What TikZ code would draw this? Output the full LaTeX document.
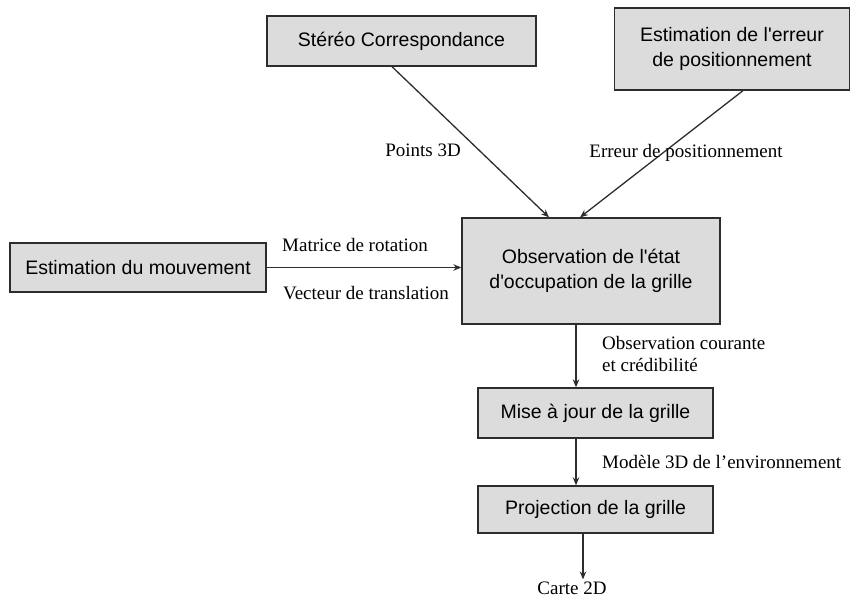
\documentclass[tikz,border=0pt]{standalone}
\usepackage{fontspec}
\setmainfont{Liberation Serif}
\setsansfont{Liberation Sans}
\usetikzlibrary{arrows.meta}
\definecolor{fondboite}{RGB}{220,220,220}
\definecolor{bordboite}{RGB}{45,45,45}
\tikzset{
  boite/.style={draw=bordboite, fill=fondboite, line width=1.3pt, inner sep=0pt,
    align=center, font=\sffamily\fontsize{19.5}{25}\selectfont},
  fleche/.style={-{Stealth[length=8pt,width=6.5pt]}, line width=1.3pt, draw=bordboite},
  etiq/.style={font=\fontsize{19}{22}\selectfont, inner sep=0pt}
}
\begin{document}
\begin{tikzpicture}[x=1pt, y=-1pt]
  \useasboundingbox (0,0) rectangle (851,601);

  % Les boîtes
  \node[boite, minimum width=269pt, minimum height=50pt] (stereo) at (401.5,41) {Stéréo Correspondance};
  \node[boite, minimum width=235pt, minimum height=82pt] (erreur) at (732,49) {Estimation de l\textquotesingle erreur\\de positionnement};
  \node[boite, minimum width=256pt, minimum height=49pt] (mouv) at (138,267.5) {Estimation du mouvement};
  \node[boite, minimum width=258pt, minimum height=106pt] (obs) at (591,271) {Observation de l\textquotesingle état\\d\textquotesingle occupation de la grille};
  \node[boite, minimum width=235pt, minimum height=50pt] (maj) at (595.5,413) {Mise à jour de la grille};
  \node[boite, minimum width=235pt, minimum height=47pt] (proj) at (595.5,509.5) {Projection de la grille};
  \node[etiq] (carte) at (572,588) {Carte 2D};

  % Les flèches
  \draw[fleche] ([xshift=-9.5pt]stereo.south) -- ([xshift=-42pt]obs.north);
  \draw[fleche] ([xshift=11pt]erreur.south) -- ([xshift=-11pt]obs.north);
  \draw[fleche] (mouv.east) -- (mouv.east -| obs.west);
  \draw[fleche] ([xshift=-15pt]obs.south) -- ([xshift=-15pt]obs.south |- maj.north);
  \draw[fleche] ([xshift=-19.5pt]maj.south) -- ([xshift=-19.5pt]maj.south |- proj.north);
  \draw[fleche] ([xshift=-12.5pt]proj.south) -- ([xshift=-12.5pt, yshift=2pt]proj.south |- carte.north);

  % Les étiquettes
  \node[etiq] (lpoints) at (423,150) {Points 3D};
  \node[etiq] (lerreur) at (686,153) {Erreur de positionnement};
  \node[etiq] (lmatrice) at (355,245) {Matrice de rotation};
  \node[etiq] (lvecteur) at (366,293) {Vecteur de translation};
  \node[etiq, anchor=west, align=left] (lcourante) at (602,354) {Observation courante\\et crédibilité};
  \node[etiq, anchor=west] (lmodele) at (602,462) {Modèle 3D de l’environnement};
\end{tikzpicture}
\end{document}
